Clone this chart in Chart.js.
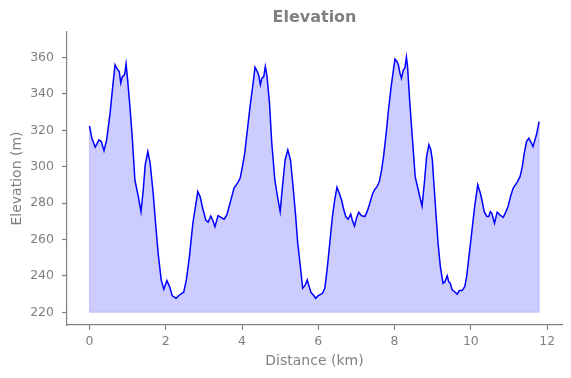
<!DOCTYPE html>
<html>
<head>
<meta charset="utf-8">
<script src="https://cdn.jsdelivr.net/npm/chart.js@4.4.0/dist/chart.umd.min.js"></script>
<style>
  html, body { margin: 0; padding: 0; background: #ffffff; }
  #wrap { width: 571px; height: 378px; }
</style>
</head>
<body>
<div id="wrap"><canvas id="c" width="571" height="378"></canvas></div>
<script>
const distanceKm = [0, 0.06, 0.15, 0.25, 0.31, 0.38, 0.45, 0.54, 0.60, 0.67, 0.74, 0.78, 0.82, 0.86, 0.92, 0.96, 1.00, 1.06, 1.12, 1.19, 1.28, 1.35, 1.41, 1.46, 1.53, 1.59, 1.67, 1.74, 1.80, 1.88, 1.95, 2.03, 2.10, 2.17, 2.27, 2.36, 2.47, 2.54, 2.62, 2.71, 2.84, 2.90, 2.97, 3.05, 3.11, 3.18, 3.23, 3.29, 3.37, 3.46, 3.53, 3.60, 3.66, 3.72, 3.79, 3.88, 3.95, 4.01, 4.07, 4.14, 4.21, 4.29, 4.34, 4.40, 4.44, 4.48, 4.52, 4.57, 4.61, 4.65, 4.72, 4.78, 4.86, 4.93, 5.00, 5.06, 5.13, 5.20, 5.27, 5.33, 5.40, 5.46, 5.53, 5.59, 5.66, 5.71, 5.76, 5.81, 5.87, 5.93, 5.99, 6.11, 6.17, 6.23, 6.30, 6.37, 6.43, 6.49, 6.55, 6.61, 6.67, 6.72, 6.78, 6.85, 6.89, 6.95, 7.00, 7.06, 7.13, 7.22, 7.28, 7.35, 7.42, 7.48, 7.54, 7.60, 7.66, 7.71, 7.78, 7.84, 7.91, 7.97, 8.01, 8.06, 8.10, 8.14, 8.18, 8.23, 8.27, 8.31, 8.34, 8.40, 8.47, 8.54, 8.60, 8.66, 8.72, 8.78, 8.84, 8.90, 8.95, 8.99, 9.03, 9.09, 9.14, 9.20, 9.27, 9.32, 9.38, 9.42, 9.46, 9.51, 9.59, 9.64, 9.70, 9.77, 9.84, 9.89, 9.96, 10.03, 10.10, 10.18, 10.25, 10.29, 10.35, 10.42, 10.47, 10.51, 10.55, 10.62, 10.69, 10.76, 10.85, 10.92, 10.98, 11.04, 11.11, 11.20, 11.29, 11.35, 11.40, 11.46, 11.52, 11.59, 11.63, 11.68, 11.72, 11.79];
const elevationM = [322.4, 315.7, 310.7, 314.7, 313.8, 308.8, 314.7, 329.4, 342.2, 356, 353.2, 352.3, 345.9, 349.5, 350.5, 356.5, 347.7, 333, 316.5, 292.7, 283.6, 275.3, 287.2, 301, 308.3, 301.9, 285.4, 267, 252.4, 237.8, 232.6, 237.4, 234.1, 229, 227.7, 229.5, 231, 237.8, 250.6, 268.9, 286.3, 283.6, 277, 270.7, 269.5, 272.9, 270.7, 267, 273.1, 272, 271.1, 273.5, 278, 282.7, 288.2, 290.9, 293.7, 300, 307.4, 320.2, 333, 345.9, 354.7, 352.3, 350, 345, 348.6, 349.5, 355, 350.5, 334.9, 312.9, 292.7, 283.6, 275.3, 289, 303.7, 309.2, 303.7, 290.9, 274.4, 257.9, 245.1, 233.2, 235, 237.8, 234.1, 230.8, 229.5, 227.7, 229, 230.4, 233.2, 243.3, 257.9, 272.6, 281.7, 288.7, 285.4, 281.7, 276.2, 272.6, 271.1, 273.9, 270.7, 267.4, 271.7, 275, 273.1, 272.6, 275.3, 279.9, 284.9, 287.5, 289, 291.8, 298.2, 305.5, 318.4, 331.2, 344, 353.2, 359.1, 357.8, 356, 351.4, 348.6, 353.2, 354.1, 360.2, 355, 334.9, 314.7, 294.5, 289, 283.6, 278.4, 290.9, 305.5, 312, 309.2, 303.7, 290.9, 272.6, 257.9, 245.1, 235.9, 236.8, 240.1, 236.8, 235.9, 232.3, 231, 229.9, 231.9, 231.9, 234.1, 239.6, 252.4, 265.2, 278, 290, 285.4, 281.7, 275.3, 272.6, 272.6, 275.3, 274.4, 268.9, 275, 273.5, 272.2, 275.3, 278.4, 283.6, 288.2, 290.9, 294.5, 300, 307.4, 313.8, 315.7, 312.9, 311, 314.7, 317.5, 324.8];
const fillBase = 220;
const xTickValues = [0, 2, 4, 6, 8, 10, 12];
const yTickValues = [220, 240, 260, 280, 300, 320, 340, 360];

const grey = '#808080';
const linePoints = distanceKm.map((d, i) => ({ x: d, y: elevationM[i] }));
const last = distanceKm.length - 1;
const outlinePoints = [
  { x: distanceKm[0], y: elevationM[0] },
  { x: distanceKm[0], y: fillBase },
  { x: distanceKm[last], y: fillBase },
  { x: distanceKm[last], y: elevationM[last] }
];

new Chart(document.getElementById('c'), {
  type: 'line',
  data: {
    datasets: [
      {
        data: linePoints,
        borderColor: '#0000ff',
        borderWidth: 1.5,
        backgroundColor: 'rgba(0,0,255,0.2)',
        fill: { value: fillBase },
        pointRadius: 0,
        tension: 0
      },
      {
        data: outlinePoints,
        borderColor: 'rgba(0,0,255,0.18)',
        borderWidth: 1.2,
        fill: false,
        pointRadius: 0,
        tension: 0
      }
    ]
  },
  options: {
    responsive: false,
    animation: false,
    devicePixelRatio: 1,
    layout: { padding: { left: 0, right: 9, top: 0, bottom: 0 } },
    plugins: {
      legend: { display: false },
      tooltip: { enabled: false },
      title: {
        display: true,
        text: 'Elevation',
        color: grey,
        fullSize: false,
        font: { family: 'DejaVu Sans', size: 16, weight: 'bold' },
        padding: { top: 8.5, bottom: 4.3 }
      }
    },
    scales: {
      x: {
        type: 'linear',
        min: -0.59,
        max: 12.39,
        afterFit: s => { s.height = 53; },
        afterBuildTicks: s => { s.ticks = xTickValues.map(v => ({ value: v })); },
        border: { display: true, color: grey, width: 1.2 },
        grid: { display: true, drawOnChartArea: false, drawTicks: true, tickLength: 5, tickColor: grey, tickWidth: 1.2 },
        ticks: { color: grey, padding: 4.5, font: { family: 'DejaVu Sans', size: 12.5 }, maxRotation: 0, autoSkip: false },
        title: {
          display: true,
          text: 'Distance (km)',
          color: grey,
          font: { family: 'DejaVu Sans', size: 14 },
          padding: { top: 0, bottom: 8 }
        }
      },
      y: {
        type: 'linear',
        min: 213,
        max: 374,
        afterFit: s => { s.width = 67; },
        afterBuildTicks: s => { s.ticks = yTickValues.map(v => ({ value: v })); },
        border: { display: true, color: grey, width: 1.2 },
        grid: { display: true, drawOnChartArea: false, drawTicks: true, tickLength: 5, tickColor: grey, tickWidth: 1.2 },
        ticks: { color: grey, padding: 8, font: { family: 'DejaVu Sans', size: 12.5 }, autoSkip: false },
        title: {
          display: true,
          text: 'Elevation (m)',
          color: grey,
          font: { family: 'DejaVu Sans', size: 14 },
          padding: { top: 8.6, bottom: 0 }
        }
      }
    }
  }
});
</script>
</body>
</html>
